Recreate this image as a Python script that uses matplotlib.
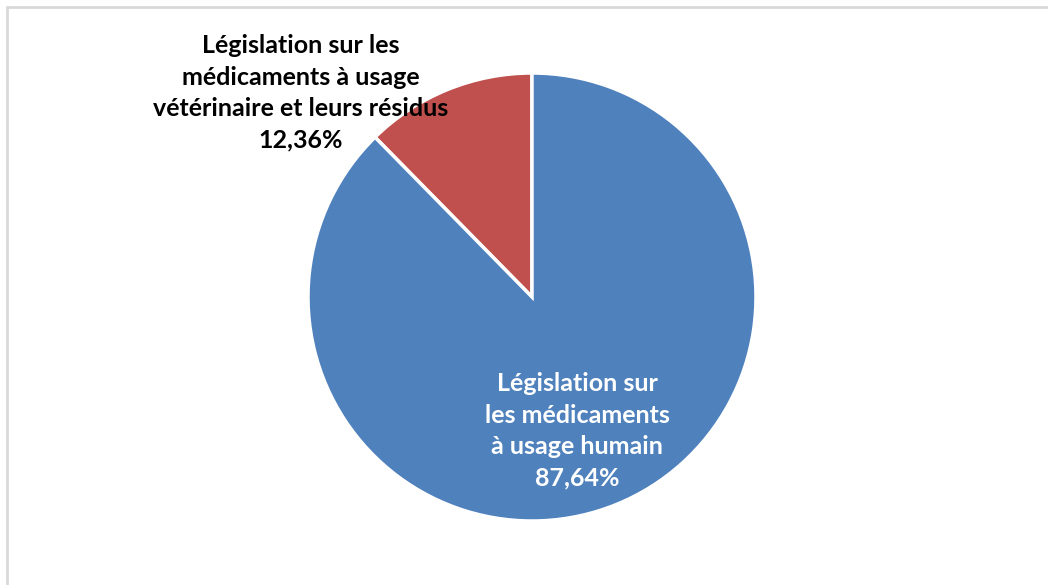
import matplotlib
matplotlib.use('Agg')
import matplotlib.pyplot as plt
import matplotlib.patches as mpatches

# data
categories = ["Législation sur les\nmédicaments à usage\nvétérinaire et leurs résidus",
              "Législation sur\nles médicaments\nà usage humain"]
shares = [12.36, 87.64]
colors = ['#C0504D', '#4F81BD']

W, H = 1048, 585
fig = plt.figure(figsize=(W / 100, H / 100), dpi=100)

# light grey chart frame (cropped on right and bottom)
fig.patches.append(mpatches.Rectangle((7 / W, -0.05), 1.1, 1 - 6.5 / H + 0.05,
                                      transform=fig.transFigure, fill=False,
                                      edgecolor='#D9D9D9', linewidth=2))

cx, cy, r = 532, 297, 224
ax = fig.add_axes([(cx - r) / W, (H - cy - r) / H, 2 * r / W, 2 * r / H])
ax.pie(shares, colors=colors, startangle=90, counterclock=True,
       wedgeprops=dict(edgecolor='white', linewidth=2.5))
ax.set_xlim(-1, 1)
ax.set_ylim(-1, 1)
ax.set_aspect('equal')
ax.axis('off')

font = dict(family=['Lato', 'DejaVu Sans'], fontweight='bold', fontsize=18,
            ha='center', va='center', linespacing=1.45)

def to_data(px, py):
    return (px - cx) / r, (cy - py) / r

x, y = to_data(301, 93)
ax.text(x, y, f"{categories[0]}\n{shares[0]:.2f}%".replace('.', ','),
        color='black', clip_on=False, **font)
x, y = to_data(577, 431)
ax.text(x, y, f"{categories[1]}\n{shares[1]:.2f}%".replace('.', ','),
        color='white', clip_on=False, **font)

fig.savefig('out.png', dpi=100, facecolor='white')
